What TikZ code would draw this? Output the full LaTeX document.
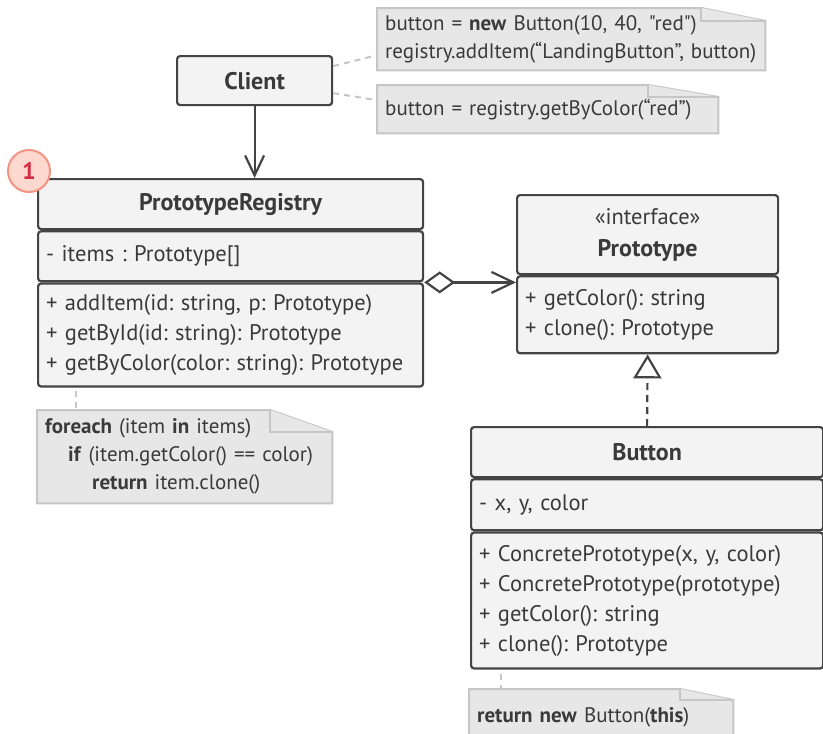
\documentclass[tikz,border=0pt]{standalone}
\usepackage{fontspec}
\setmainfont{PT Sans}[Ligatures=TeXOff]
\usepackage{tikz}
\usetikzlibrary{positioning,arrows.meta,calc,backgrounds}
\definecolor{inkgray}{HTML}{444444}
\definecolor{boxfill}{HTML}{F3F3F3}
\definecolor{txtgray}{HTML}{3A3A3A}
\definecolor{notefill}{HTML}{E7E7E7}
\definecolor{noteline}{HTML}{C6C6C6}
\definecolor{badgefill}{HTML}{FCD8CF}
\definecolor{badgeline}{HTML}{F29384}
\definecolor{badgered}{HTML}{D42E46}
\newcommand{\kw}[1]{\textbf{#1}}
% folded-corner note drawn behind a text node
\newcommand{\notefold}[3]{%
  \begin{scope}[on background layer]
    \draw[noteshape] (#1.north west) -- ([xshift=-#2]#1.north east)
      -- ([yshift=-#3]#1.north east) -- (#1.south east) -- (#1.south west) -- cycle;
    \draw[noteshape] ([xshift=-#2]#1.north east) -- ([xshift=-#2,yshift=-#3]#1.north east)
      -- ([yshift=-#3]#1.north east);
  \end{scope}}
\frenchspacing

\begin{document}
\begin{tikzpicture}[
    x=1pt, y=-1pt,
    cls/.style={draw=inkgray, fill=boxfill, line width=2.2pt, rounded corners=3pt,
      text=txtgray, inner xsep=8pt, inner ysep=0pt, font=\fontsize{22.5}{30}\selectfont},
    head/.style={cls, font=\fontsize{24}{32}\selectfont\bfseries, align=center},
    part/.style={cls, align=left},
    notetext/.style={text=txtgray, inner xsep=8pt, inner ysep=0pt, align=left,
      anchor=north west, font=\fontsize{21}{28}\selectfont},
    noteshape/.style={draw=noteline, fill=notefill, line width=2pt},
    notelink/.style={draw=noteline, line width=2pt, dash pattern=on 6pt off 5pt},
    uses/.style={draw=inkgray, line width=2.2pt, -{Straight Barb[length=20pt,width=19pt]}},
    badge/.style={circle, draw=badgeline, fill=badgefill, line width=2pt, minimum size=42pt,
      inner sep=0pt, text=badgered, font=\fontsize{24}{24}\selectfont\bfseries}
]
\useasboundingbox (0,0) rectangle (823,734);

% client
\node[head, text width=139pt, minimum height=49pt, anchor=north west] (client) at (176,55) {Client};

% registry
\node[head, text width=369pt, minimum height=50pt, anchor=north west] (reghead) at (37,178) {PrototypeRegistry};
\node[part, text width=369pt, minimum height=50pt, below=0pt of reghead] (regattr) {- items : Prototype[]};
\node[part, text width=369pt, minimum height=103pt, below=0pt of regattr] (regmeth)
    {+ addItem(id: string, p: Prototype)\\ + getById(id: string): Prototype\\ + getByColor(color: string): Prototype};

% prototype interface
\node[head, text width=245pt, minimum height=79pt, anchor=north west] (protohead) at (516,194)
    {{\mdseries\fontsize{22.5}{32}\selectfont «interface»}\\ Prototype};
\node[part, text width=245pt, minimum height=77pt, below=0pt of protohead] (protometh)
    {+ getColor(): string\\ + clone(): Prototype};

% concrete button
\node[head, text width=336pt, minimum height=50pt, anchor=north west] (btnhead) at (470,426) {Button};
\node[part, text width=336pt, minimum height=51pt, below=0pt of btnhead] (btnattr) {- x, y, color};
\node[part, text width=336pt, minimum height=136pt, below=0pt of btnattr] (btnmeth)
    {+ ConcretePrototype(x, y, color)\\ + ConcretePrototype(prototype)\\ + getColor(): string\\ + clone(): Prototype};

\node[badge] (step1) at (29,171) {1};

% notes
\node[notetext, text width=372pt, minimum height=62pt] (addnote) at (377,8)
    {button = \kw{new} Button(10, 40, "red")\\ registry.addItem(“LandingButton”, button)};
\notefold{addnote}{64pt}{13pt}
\node[notetext, text width=325pt, minimum height=48pt] (getnote) at (377,85)
    {button = registry.getByColor(“red”)};
\notefold{getnote}{70pt}{12pt}
\node[notetext, text width=279pt, minimum height=93pt] (loopnote) at (37,410)
    {\kw{foreach} (item \kw{in} items)\\ \hspace*{23pt}\kw{if} (item.getColor() == color)\\
     \hspace*{47pt}\kw{return} item.clone()};
\notefold{loopnote}{62pt}{22pt}
\node[notetext, text width=248pt, minimum height=56pt] (clonenote) at (469,689)
    {\kw{return new} Button(\kw{this})};
\notefold{clonenote}{53pt}{11pt}

% connectors
\draw[notelink] ([yshift=14.5pt]client.east) -- ([yshift=-16pt]addnote.west);
\draw[notelink] ([yshift=-12.5pt]client.east) -- ([yshift=9pt]getnote.west);
\coordinate (regtap) at ([xshift=39pt,yshift=-3pt]regmeth.south west);
\draw[notelink] (regtap) -- (regtap |- loopnote.north);
\coordinate (btntap) at ([xshift=31pt,yshift=-4pt]btnmeth.south west);
\draw[notelink] (btntap) -- (btntap |- clonenote.north);

\draw[uses] (client.south) -- (client.south |- reghead.north);
\draw[uses, {Diamond[open,length=31pt,width=22pt]}-{Straight Barb[length=22pt,width=21pt]}]
    (regattr.south east) -- (regattr.south east -| protometh.west);
\draw[draw=inkgray, line width=2.2pt, dash pattern=on 7pt off 5pt, -{Triangle[open,length=24pt,width=28pt]}]
    (btnhead.north) -- (protometh.south);

\end{tikzpicture}
\end{document}
